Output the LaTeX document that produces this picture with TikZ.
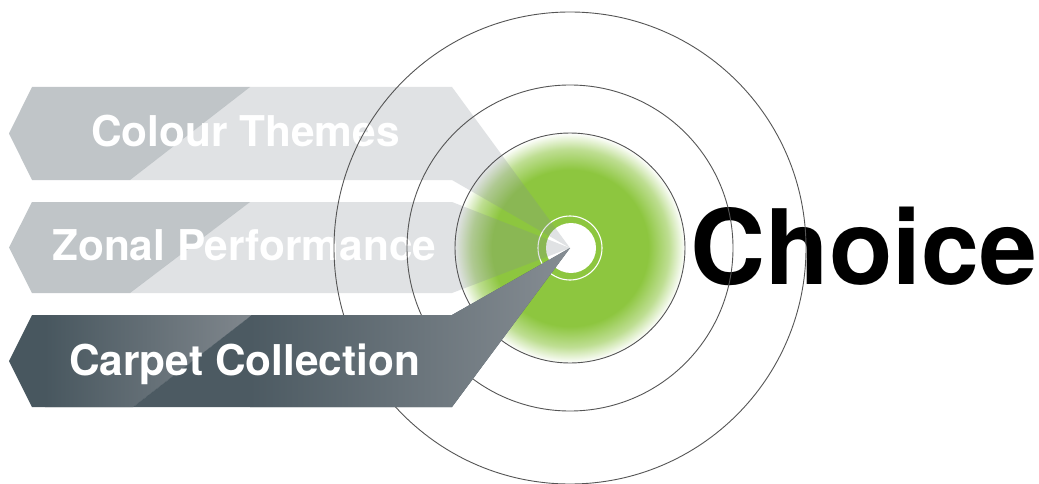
\documentclass[tikz,border=0pt]{standalone}
\usepackage{fontspec}
\setmainfont{TeX Gyre Heros}
\definecolor{glowgreen}{RGB}{141,198,63}
\definecolor{glowmid}{RGB}{190,222,146}
\definecolor{lightleft}{RGB}{192,197,200}
\definecolor{ghost}{RGB}{133,141,149}
\definecolor{darkA}{RGB}{72,87,95}
\definecolor{darkB}{RGB}{128,135,141}
\definecolor{darkC}{RGB}{76,90,98}
\definecolor{darkD}{RGB}{134,141,147}
\definecolor{ringgrey}{RGB}{85,85,85}
\pgfdeclareradialshading{glow}{\pgfpointorigin}{color(0bp)=(glowgreen); color(17bp)=(glowgreen); color(21.5bp)=(glowmid); color(25bp)=(white); color(50bp)=(white)}
\tikzset{
  ringline/.style={draw=ringgrey, line width=0.9pt},
  lightpart/.style={fill=lightleft},
  ghostpart/.style={fill=ghost, fill opacity=0.25},
  bannertext/.style={text=white, inner sep=0pt, anchor=base west, font=\fontsize{42.4}{48}\selectfont\bfseries},
}
\begin{document}
\begin{tikzpicture}[x=1pt,y=-1pt]
\useasboundingbox (0,0) rectangle (1039,484);
\fill[white] (0,0) rectangle (1039,484);
\coordinate (C) at (570,248);
\coordinate (tip) at (570,248);
% glow
\shade[shading=glow] (C) circle[radius=115];
% white centre
\fill[white] (571,248) circle[radius=25];
\draw[white, line width=1.1pt] (570,248) circle[radius=32];
% light banners
\path[lightpart] (32,87) -- (250,87) -- (130,180) -- (32,180) -- (9,133.5) -- cycle;
\path[ghostpart] (250,87) -- (452,87) -- (tip) -- (452,180) -- (130,180) -- cycle;
\path[lightpart] (32,202) -- (250,202) -- (130,293) -- (32,293) -- (9,247.5) -- cycle;
\path[ghostpart] (250,202) -- (452,202) -- (tip) -- (452,293) -- (130,293) -- cycle;
\node[bannertext] (colour) at (91,147) {Colour Themes};
\node[bannertext] (zonal) at (52,260) {Zonal Performance};
% Choice
\node[anchor=base west, inner sep=0pt, font=\fontsize{104}{110}\selectfont\bfseries] (choice) at (690.5,284) {Choice};
% circles
\draw[ringline] (C) circle[radius=115];
\draw[ringline] (C) circle[radius=163];
\draw[ringline] (C) circle[radius=236];
% dark banner
\fill[darkA] (32,315) -- (252,315) -- (133,407) -- (32,407) -- (9,361) -- cycle;
\begin{scope}
\clip (32,315) -- (252,315) -- (133,407) -- (32,407) -- (9,361) -- cycle;
\shade[left color=darkA, right color=darkB] (45,315) rectangle (252,407);
\end{scope}
\fill[darkC] (252,315) -- (452,315) -- (tip) -- (452,407) -- (133,407) -- cycle;
\begin{scope}
\clip (252,315) -- (452,315) -- (tip) -- (452,407) -- (133,407) -- cycle;
\shade[left color=darkC, right color=darkD] (250,240) rectangle (572,407);
\end{scope}
\node[bannertext] (carpet) at (69,375) {Carpet Collection};
\end{tikzpicture}
\end{document}
